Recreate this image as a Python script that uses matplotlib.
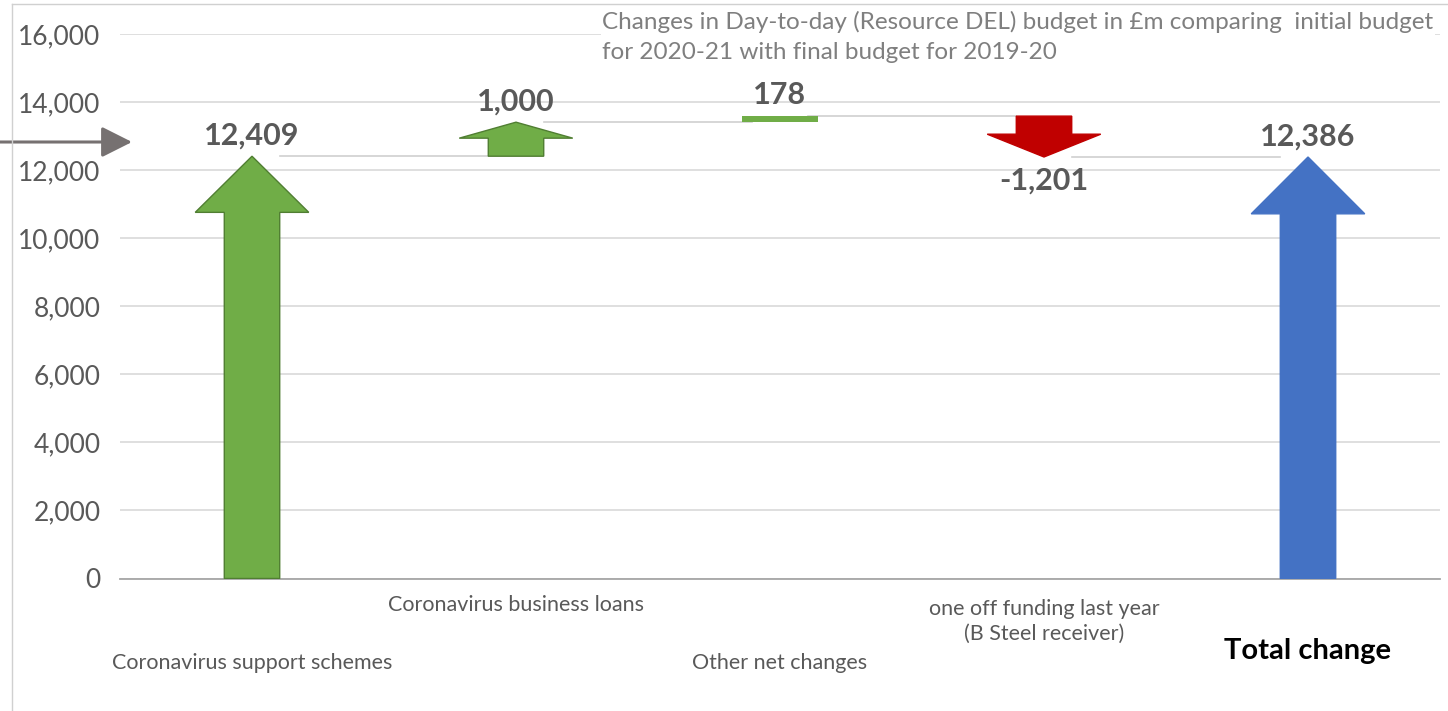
import matplotlib
matplotlib.use("Agg")
import matplotlib.pyplot as plt
from matplotlib.lines import Line2D
from matplotlib.ticker import FuncFormatter

# =========================
# DATA
# =========================

categories = [
    "Coronavirus support schemes",
    "Coronavirus business loans",
    "Other net changes",
    "one off funding last year\n(B Steel receiver)",
    "Total change",
]

changes = [12409, 1000, 178, -1201, 12386]

is_total = [False, False, False, False, True]

y_ticks = [0, 2000, 4000, 6000, 8000, 10000, 12000, 14000, 16000]

title_text = (
    "Changes in Day-to-day (Resource DEL) budget in £m comparing  initial budget\n"
    "for 2020-21 with final budget for 2019-20"
)

# =========================
# STYLE
# =========================

GREEN = "#70AD47"
GREEN_EDGE = "#507E32"
RED = "#C00000"
BLUE = "#4472C4"
GREY_TEXT = "#595959"

plt.rcParams["font.family"] = ["Lato", "DejaVu Sans"]

# arrow head length (data units) per item, None = flat bar
head_lengths = [1650, 470, None, 670, 1670]
body_width = 0.21
head_width = 0.43
flat_bar_width = 0.29

# category label distance below the axis (points)
label_offsets = [61, 19, 61, 31, 52]

# =========================
# WATERFALL LEVELS
# =========================

starts = []
running = 0
for ch, tot in zip(changes, is_total):
    if tot:
        starts.append(0)
    else:
        starts.append(running)
        running += ch
ends = [s + c for s, c in zip(starts, changes)]

# =========================
# FIGURE
# =========================

fig = plt.figure(figsize=(14.48, 7.11), dpi=100)
ax = fig.add_axes([120 / 1448, 1 - 578.5 / 711, 1320 / 1448, 544.5 / 711])

ax.set_xlim(-0.5, len(categories) - 0.5)
ax.set_ylim(0, 16000)
ax.set_yticks(y_ticks)
ax.yaxis.set_major_formatter(FuncFormatter(lambda v, p: f"{int(v):,}"))
ax.tick_params(axis="y", length=0, pad=14, labelsize=19, labelcolor=GREY_TEXT)
ax.set_xticks([])
ax.grid(axis="y", color="#d9d9d9", lw=1.2, zorder=0)
ax.set_axisbelow(True)

for side in ["top", "right", "left"]:
    ax.spines[side].set_visible(False)
ax.spines["bottom"].set_color("#a6a6a6")
ax.spines["bottom"].set_linewidth(1.3)

# connectors between steps
for i in range(len(categories) - 1):
    ax.plot(
        [i + body_width / 2, i + 1 - body_width / 2],
        [ends[i], ends[i]],
        color="#d0d0d0",
        lw=1.2,
        zorder=1,
    )

# arrows / bars
for i, (s, c, tot) in enumerate(zip(starts, changes, is_total)):
    if tot:
        face, edge = BLUE, BLUE
    elif c >= 0:
        face, edge = GREEN, GREEN_EDGE
    else:
        face, edge = RED, RED

    if head_lengths[i] is None:
        ax.bar(i, c, bottom=s, width=flat_bar_width, color=face, zorder=3)
    else:
        ax.arrow(
            i, s, 0, c,
            width=body_width,
            head_width=head_width,
            head_length=head_lengths[i],
            length_includes_head=True,
            facecolor=face,
            edgecolor=edge,
            lw=1,
            zorder=3,
        )

    offset = 15 if c >= 0 else -17
    ax.annotate(
        f"{c:,}",
        xy=(i, s + c),
        xytext=(0, offset),
        textcoords="offset points",
        ha="center",
        va="center",
        fontsize=22,
        fontweight="bold",
        color=GREY_TEXT,
        zorder=5,
    )

# category labels (staggered)
for i, name in enumerate(categories):
    if is_total[i]:
        kw = dict(fontsize=21, fontweight="bold", color="black")
    else:
        kw = dict(fontsize=15.5, color=GREY_TEXT)
    ax.annotate(
        name,
        xy=(i, 0),
        xycoords=ax.get_xaxis_transform(),
        xytext=(0, -label_offsets[i]),
        textcoords="offset points",
        ha="center",
        va="center",
        linespacing=1.3,
        annotation_clip=False,
        **kw,
    )

# title
fig.text(
    602 / 1448,
    1 - 11 / 711,
    title_text,
    ha="left",
    va="top",
    fontsize=17.5,
    color="#7f7f7f",
    linespacing=1.55,
    bbox=dict(facecolor="white", edgecolor="none", pad=1),
    zorder=6,
)

# pointer arrow on the left
ax.annotate(
    "",
    xy=(132 / 1448, 1 - 142 / 711),
    xytext=(0, 1 - 142 / 711),
    xycoords="figure fraction",
    textcoords="figure fraction",
    arrowprops=dict(
        arrowstyle="-|>,head_length=1.87,head_width=0.94",
        mutation_scale=10,
        lw=2.2,
        color="#767171",
        shrinkA=0,
        shrinkB=0,
    ),
    annotation_clip=False,
)

# chart border
fig.add_artist(Line2D([12 / 1448, 12 / 1448], [0, 1 - 4 / 711], color="#d0d0d0", lw=1))
fig.add_artist(Line2D([12 / 1448, 1], [1 - 4 / 711, 1 - 4 / 711], color="#d0d0d0", lw=1))

fig.savefig("out.png", dpi=100)
